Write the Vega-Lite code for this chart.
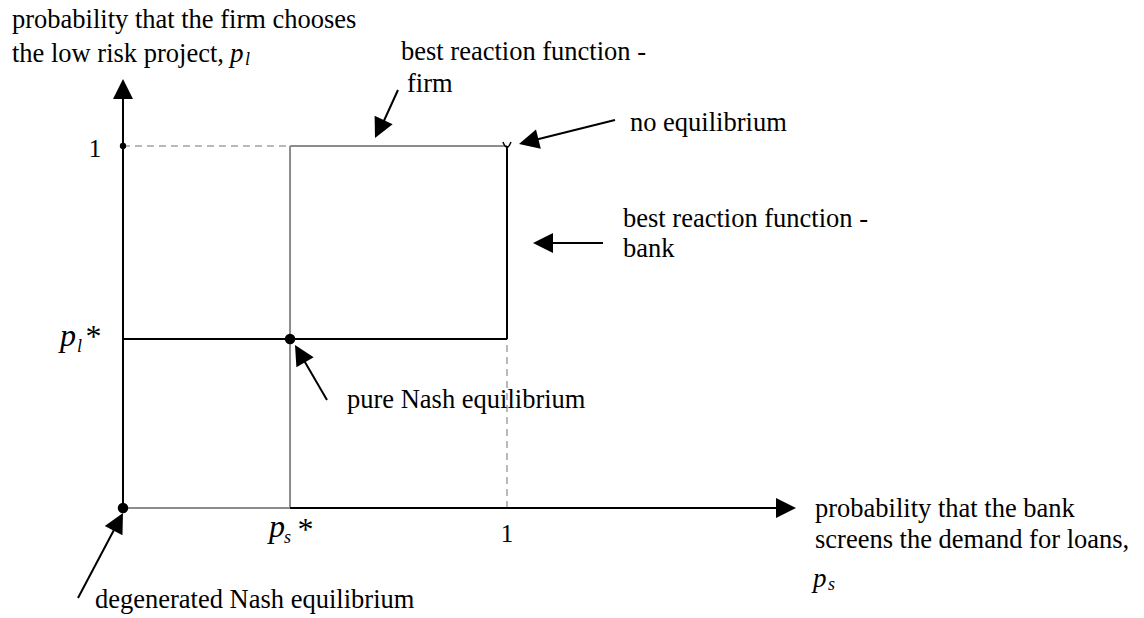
{
  "$schema": "https://vega.github.io/schema/vega-lite/v6.json",
  "width": 1144,
  "height": 618,
  "padding": 0,
  "autosize": {"type": "none"},
  "background": "white",
  "config": {"view": {"stroke": null}},
  "datasets": {
    "grayLines": [
      {"x": 0, "y": 0, "x2": 0.435, "y2": 0},
      {"x": 0.435, "y": 0, "x2": 0.435, "y2": 1},
      {"x": 0.435, "y": 1, "x2": 1, "y2": 1}
    ],
    "dashedLines": [
      {"x": 0, "y": 1, "x2": 0.435, "y2": 1},
      {"x": 1, "y": 0, "x2": 1, "y2": 0.467}
    ],
    "blackLines": [
      {"x": 0, "y": 0, "x2": 0, "y2": 1.1575},
      {"x": 0.435, "y": 0, "x2": 1.7266, "y2": 0},
      {"x": 0, "y": 0.467, "x2": 1, "y2": 0.467},
      {"x": 1, "y": 0.467, "x2": 1, "y2": 1},
      {"x": 0.7161, "y": 1.1547, "x2": 0.6674, "y2": 1.0414},
      {"x": 1.28125, "y": 1.0718, "x2": 1.0565, "y2": 1.0122},
      {"x": 1.25, "y": 0.732, "x2": 1.09375, "y2": 0.732},
      {"x": 0.53125, "y": 0.2983, "x2": 0.4609, "y2": 0.4265},
      {"x": -0.1172, "y": -0.2486, "x2": -0.0122, "y2": -0.0381}
    ],
    "arrowHeads": [
      {"x": 0, "y": 1.1851, "a": 0},
      {"x": 1.7526, "y": 0, "a": 90},
      {"x": 0.65625, "y": 1.0221, "a": -154.4},
      {"x": 1.03125, "y": 1.00552, "a": -104},
      {"x": 1.0677, "y": 0.732, "a": -90},
      {"x": 0.4479, "y": 0.4503, "a": -30.2},
      {"x": 0, "y": -0.0138, "a": 27.9}
    ],
    "smallDots": [{"x": 0, "y": 1}],
    "bigDots": [{"x": 0.435, "y": 0.467}, {"x": 0, "y": 0}],
    "openMarker": [{"x": 1, "y": 1}],
    "labels": [
      {"x": -0.2891, "y": 1.326, "t": "probability that the  firm chooses"},
      {"x": -0.2891, "y": 1.232, "t": "the low risk project,"},
      {"x": 0.724, "y": 1.2376, "t": "best reaction function -"},
      {"x": 0.7396, "y": 1.1492, "t": "firm"},
      {"x": 1.3203, "y": 1.0414, "t": "no equilibrium"},
      {"x": 1.3021, "y": 0.7762, "t": "best reaction function -"},
      {"x": 1.3021, "y": 0.6934, "t": "bank"},
      {"x": 0.5833, "y": 0.2762, "t": "pure Nash equilibrium"},
      {"x": -0.0729, "y": -0.2762, "t": "degenerated Nash equilibrium"},
      {"x": 1.8021, "y": -0.0249, "t": "probability that the bank"},
      {"x": 1.8021, "y": -0.1105, "t": "screens the demand  for loans,"}
    ],
    "ticks": [
      {"x": 1, "y": -0.0939, "t": "1"},
      {"x": -0.0729, "y": 0.9696, "t": "1"}
    ],
    "bigItalic": [
      {"x": -0.1641, "y": 0.4475, "t": "p"},
      {"x": 0.3802, "y": -0.0801, "t": "p"},
      {"x": -0.1016, "y": 0.4448, "t": "*"},
      {"x": 0.4505, "y": -0.0884, "t": "*"}
    ],
    "midItalic": [
      {"x": 0.2786, "y": 1.232, "t": "p"},
      {"x": 1.7969, "y": -0.2182, "t": "p"}
    ],
    "subItalic": [
      {"x": -0.1198, "y": 0.4309, "t": "l"},
      {"x": 0.4193, "y": -0.0967, "t": "s"},
      {"x": 0.3177, "y": 1.2238, "t": "l"},
      {"x": 1.8359, "y": -0.2265, "t": "s"}
    ]
  },
  "encoding": {
    "x": {"field": "x", "type": "quantitative", "scale": {"domain": [-0.3203, 2.6589], "nice": false, "zero": false}, "axis": null},
    "y": {"field": "y", "type": "quantitative", "scale": {"domain": [-0.3039, 1.4033], "nice": false, "zero": false}, "axis": null}
  },
  "layer": [
    {
      "data": {"name": "grayLines"},
      "mark": {"type": "rule", "color": "#8c8c8c", "strokeWidth": 2},
      "encoding": {"x2": {"field": "x2"}, "y2": {"field": "y2"}}
    },
    {
      "data": {"name": "dashedLines"},
      "mark": {"type": "rule", "color": "#a3a3a3", "strokeWidth": 1.5, "strokeDash": [7, 5]},
      "encoding": {"x2": {"field": "x2"}, "y2": {"field": "y2"}}
    },
    {
      "data": {"name": "blackLines"},
      "mark": {"type": "rule", "color": "#000000", "strokeWidth": 2},
      "encoding": {"x2": {"field": "x2"}, "y2": {"field": "y2"}}
    },
    {
      "data": {"name": "arrowHeads"},
      "mark": {"type": "point", "shape": "M0,0L-0.5,1L0.5,1Z", "filled": true, "color": "#000000", "opacity": 1, "size": 1600},
      "encoding": {"angle": {"field": "a", "type": "quantitative", "scale": null}}
    },
    {
      "data": {"name": "smallDots"},
      "mark": {"type": "point", "shape": "circle", "filled": true, "color": "#000000", "opacity": 1, "size": 40}
    },
    {
      "data": {"name": "bigDots"},
      "mark": {"type": "point", "shape": "circle", "filled": true, "color": "#000000", "opacity": 1, "size": 110}
    },
    {
      "data": {"name": "openMarker"},
      "mark": {"type": "point", "shape": "M-1,-1Q0,1.6 1,-1", "filled": false, "color": "#000000", "opacity": 1, "strokeWidth": 1.5, "size": 64}
    },
    {
      "data": {"name": "labels"},
      "mark": {"type": "text", "font": "Liberation Serif", "fontSize": 26.5, "align": "left", "baseline": "alphabetic", "color": "#000000"},
      "encoding": {"text": {"field": "t"}}
    },
    {
      "data": {"name": "ticks"},
      "mark": {"type": "text", "font": "Liberation Serif", "fontSize": 25, "align": "center", "baseline": "alphabetic", "color": "#000000"},
      "encoding": {"text": {"field": "t"}}
    },
    {
      "data": {"name": "bigItalic"},
      "mark": {"type": "text", "font": "Liberation Serif", "fontStyle": "italic", "fontSize": 32, "align": "left", "baseline": "alphabetic", "color": "#000000"},
      "encoding": {"text": {"field": "t"}}
    },
    {
      "data": {"name": "midItalic"},
      "mark": {"type": "text", "font": "Liberation Serif", "fontStyle": "italic", "fontSize": 27, "align": "left", "baseline": "alphabetic", "color": "#000000"},
      "encoding": {"text": {"field": "t"}}
    },
    {
      "data": {"name": "subItalic"},
      "mark": {"type": "text", "font": "Liberation Serif", "fontStyle": "italic", "fontSize": 18, "align": "left", "baseline": "alphabetic", "color": "#000000"},
      "encoding": {"text": {"field": "t"}}
    }
  ]
}
